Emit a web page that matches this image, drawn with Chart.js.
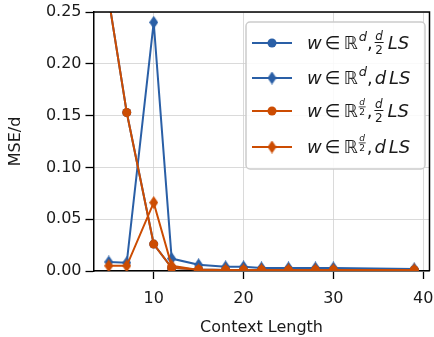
<!DOCTYPE html>
<html><head><meta charset="utf-8">
<script src="https://cdn.jsdelivr.net/npm/chart.js@4/dist/chart.umd.min.js"></script>
<style>html,body{margin:0;padding:0;background:#fff}#w{width:434px;height:337px}</style>
</head><body><div id="w"><canvas id="c" width="434" height="337"></canvas></div>
<script>
const contextLengths = [5, 7, 10, 12, 15, 18, 20, 22, 25, 28, 30, 39];
const fullHalfLS  = [0.262, 0.153, 0.026, 0.003, 0.0015, 0.001, 0.001, 0.001, 0.001, 0.001, 0.001, 0.001];
const fullDLS     = [0.0087, 0.008, 0.240, 0.012, 0.006, 0.004, 0.004, 0.003, 0.003, 0.003, 0.003, 0.002];
const halfHalfLS  = [0.262, 0.153, 0.026, 0.003, 0.0015, 0.001, 0.001, 0.001, 0.001, 0.001, 0.001, 0.001];
const halfDLS     = [0.005, 0.005, 0.066, 0.005, 0.001, 0.001, 0.001, 0.001, 0.001, 0.001, 0.001, 0.001];
const xTicks = [10, 20, 30, 40];
const yTicks = [0, 0.05, 0.10, 0.15, 0.20, 0.25];

const BLUE = '#2a5fa6', ORANGE = '#cc4c02';

function diamond(color){
  const c = document.createElement('canvas'); c.width = 9; c.height = 13;
  const g = c.getContext('2d');
  g.fillStyle = color; g.beginPath();
  g.moveTo(4.5,0); g.lineTo(9,6.5); g.lineTo(4.5,13); g.lineTo(0,6.5); g.closePath(); g.fill();
  return c;
}
const dB = diamond(BLUE), dO = diamond(ORANGE);

function ds(label, data, color, style, order){
  return {label, order, data: contextLengths.map((x,i)=>({x, y:data[i]})), borderColor: color, backgroundColor: color,
    borderWidth: 2, pointStyle: style, pointRadius: 4.5, pointHoverRadius: 4.5, pointBorderWidth: 0, clip: 0, tension: 0};
}

const legendPlugin = {
  id: 'mlegend',
  afterDraw(chart){
    const g = chart.ctx; g.save();
    const bx=246, by=22, bw=179, bh=147, r=4;
    g.fillStyle='rgba(255,255,255,0.85)'; g.strokeStyle='#cccccc'; g.lineWidth=1.5;
    g.beginPath(); g.roundRect(bx,by,bw,bh,r); g.fill(); g.stroke();
    const rows = [
      {y:43, c:BLUE, m:'circle', sup:'d', ls:'frac'},
      {y:78, c:BLUE, m:'diamond', sup:'d', ls:'d'},
      {y:111, c:ORANGE, m:'circle', sup:'frac', ls:'frac'},
      {y:147, c:ORANGE, m:'diamond', sup:'frac', ls:'d'}
    ];
    const F='"DejaVu Sans"';
    rows.forEach(rw=>{
      g.strokeStyle=rw.c; g.lineWidth=2; g.beginPath(); g.moveTo(252,rw.y); g.lineTo(292,rw.y); g.stroke();
      g.fillStyle=rw.c;
      if(rw.m==='circle'){ g.beginPath(); g.arc(272,rw.y,4.5,0,Math.PI*2); g.fill(); }
      else g.drawImage(rw.c===BLUE?dB:dO, 272-4.5, rw.y-6.5);
      g.fillStyle='#1a1a1a'; g.textBaseline='alphabetic'; g.textAlign='left';
      const base = rw.y+6;
      let x = 307;
      g.font='oblique 18px '+F; g.fillText('w',x,base); x+=g.measureText('w').width+3;
      g.font='18px '+F; g.fillText('\u2208',x,base); x+=g.measureText('\u2208').width+3;
      g.fillText('\u211D',x,base); x+=g.measureText('\u211D').width+1;
      if(rw.sup==='d'){ g.font='oblique 13px '+F; g.fillText('d',x,base-8); x+=g.measureText('d').width; }
      else {
        g.textAlign='center';
        g.font='oblique 9px '+F; g.fillText('d',x+3.5,base-12);
        g.fillRect(x,base-10.5,7,0.8);
        g.font='9px '+F; g.fillText('2',x+3.5,base-2.5);
        g.textAlign='left'; x+=8;
      }
      g.font='18px '+F; g.fillText(',',x,base); x+=g.measureText(',').width+2;
      if(rw.ls==='frac'){
        g.textAlign='center';
        g.font='oblique 12px '+F; g.fillText('d',x+4.5,base-9);
        g.fillRect(x,base-7,9,1);
        g.font='12px '+F; g.fillText('2',x+4.5,base+5);
        g.textAlign='left'; x+=13;
      } else { g.font='oblique 18px '+F; g.fillText('d',x,base); x+=g.measureText('d').width+3; }
      g.font='oblique 18px '+F; g.fillText('LS',x,base);
    });
    const a = chart.chartArea;
    g.strokeStyle='#000'; g.lineWidth=1.5; g.beginPath();
    g.moveTo(a.left,a.top); g.lineTo(a.right,a.top); g.lineTo(a.right,a.bottom); g.stroke();
    g.restore();
  }
};

const gridOpts = { color: '#d0d0d0', lineWidth: 0.8, borderDash: [3,3], tickLength: 8, tickColor: '#000', tickWidth: 1.3, tickBorderDash: [] };
new Chart(document.getElementById('c'), {
  type: 'line',
  data: { datasets: [
    ds('w∈ℝ^d, d/2 LS', fullHalfLS, BLUE, 'circle', 3),
    ds('w∈ℝ^d, d LS', fullDLS, BLUE, dB, 2),
    ds('w∈ℝ^(d/2), d/2 LS', halfHalfLS, ORANGE, 'circle', 1),
    ds('w∈ℝ^(d/2), d LS', halfDLS, ORANGE, dO, 0)
  ]},
  options: {
    responsive: false, animation: false, devicePixelRatio: 1,
    layout: { padding: { top: 12, right: 4, left: 0, bottom: 0 } },
    plugins: { legend: { display: false }, tooltip: { enabled: false } },
    scales: {
      x: { type: 'linear', min: 3.3, max: 40.7,
        afterBuildTicks: s => { s.ticks = xTicks.map(v=>({value:v})); },
        afterFit: s => { s.height = 66; s.paddingRight = 0; s.paddingLeft = 0; },
        grid: gridOpts,
        border: { color: '#000', width: 1.5 },
        ticks: { color: '#1a1a1a', font: { family: 'DejaVu Sans', size: 16 }, padding: 10, maxRotation: 0, callback: v => String(v) },
        title: { display: true, text: 'Context Length', color: '#1a1a1a', font: { family: 'DejaVu Sans', size: 16 }, padding: { top: 5, bottom: 0 } }
      },
      y: { min: 0, max: 0.25,
        afterBuildTicks: s => { s.ticks = yTicks.map(v=>({value:v})); },
        afterFit: s => { s.width = 93.5; s.paddingTop = 0; s.paddingBottom = 0; },
        grid: gridOpts,
        border: { color: '#000', width: 1.5 },
        ticks: { color: '#1a1a1a', font: { family: 'DejaVu Sans', size: 16 }, padding: 4, callback: v => v.toFixed(2) },
        title: { display: true, text: 'MSE/d', color: '#1a1a1a', font: { family: 'DejaVu Sans', size: 16 }, padding: { top: 6, bottom: 2 } }
      }
    }
  },
  plugins: [legendPlugin]
});
</script></body></html>
